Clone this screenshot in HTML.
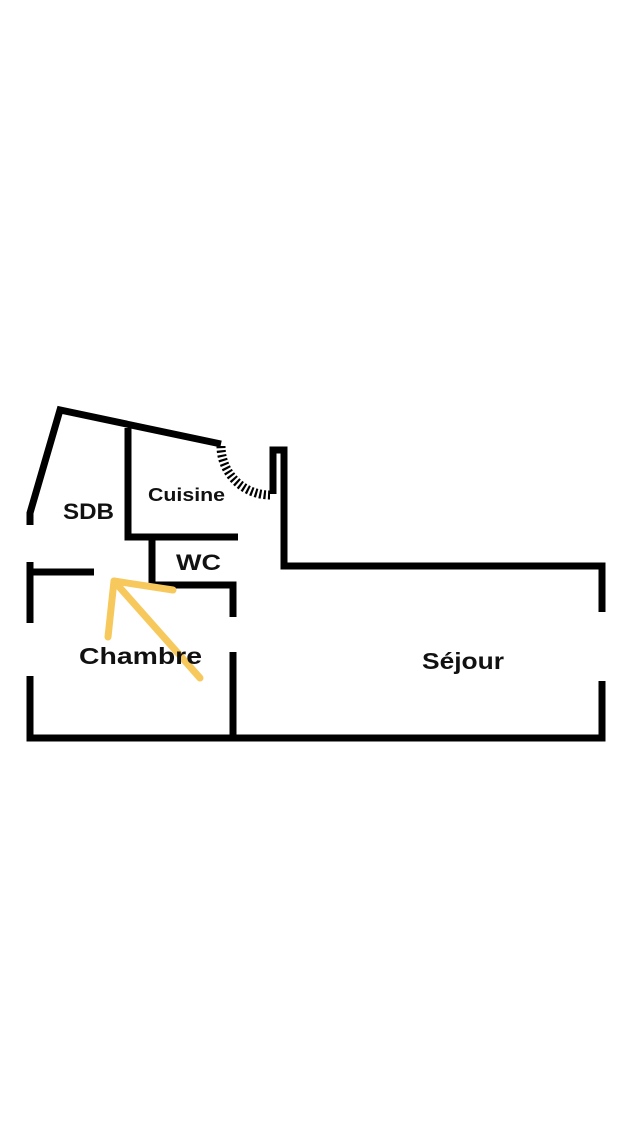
<!DOCTYPE html>
<html><head><meta charset="utf-8"><style>
html,body{margin:0;padding:0;background:#fff;width:640px;height:1136px;overflow:hidden}
svg{display:block}
text{font-family:"Liberation Sans",sans-serif;font-weight:bold;fill:#111}
</style></head><body>
<svg width="640" height="1136" viewBox="0 0 640 1136">
<g stroke="#000" stroke-width="7" fill="none" stroke-linecap="butt" stroke-linejoin="miter">
<polyline points="30,525 30,513 60,410 221,444"/>
<polyline points="128,428 128,537 238,537"/>
<polyline points="152,537 152,585 233,585 233,617"/>
<line x1="233" y1="652" x2="233" y2="740"/>
<polyline points="94,572 30,572"/>
<line x1="30" y1="562" x2="30" y2="623"/>
<polyline points="30,676 30,738 602,738 602,681"/>
<polyline points="602,612 602,566 284,566 284,450 273,450 273,494"/>
</g>
<path d="M221,446 A49,49 0 0 0 270,495" stroke="#000" stroke-width="9" fill="none" stroke-dasharray="2.2 2.2"/>
<g stroke="#f7c95c" stroke-width="7" fill="none" stroke-linecap="round" stroke-linejoin="round">
<polyline points="173,590 114,581 108,637"/>
<line x1="114" y1="581" x2="200" y2="678"/>
</g>
<text x="63" y="519" font-size="22" textLength="51" lengthAdjust="spacingAndGlyphs">SDB</text>
<text x="148" y="501" font-size="18" textLength="77" lengthAdjust="spacingAndGlyphs">Cuisine</text>
<text x="176" y="570" font-size="22" textLength="45" lengthAdjust="spacingAndGlyphs">WC</text>
<text x="79" y="664" font-size="23" textLength="123" lengthAdjust="spacingAndGlyphs">Chambre</text>
<text x="422" y="669" font-size="23" textLength="82" lengthAdjust="spacingAndGlyphs">Séjour</text>
</svg>
</body></html>
